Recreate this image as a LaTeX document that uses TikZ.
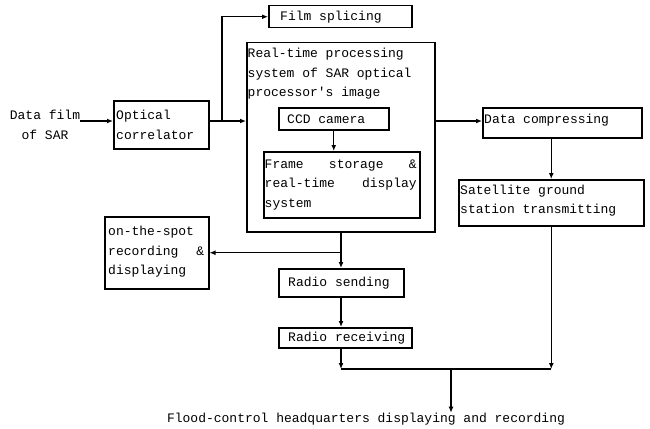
\documentclass[tikz,border=0pt]{standalone}
\usepackage{fontspec}
\newfontfamily\monof{Liberation Mono}
\usetikzlibrary{arrows.meta,calc}
\begin{document}
\begin{tikzpicture}[x=1pt,y=-1pt,
  every node/.style={font=\monof\fontsize{13}{19.5}\selectfont},
  box/.style={draw,line width=1.5pt,anchor=north west,inner sep=0pt},
  txt/.style={anchor=west,align=left,inner sep=0pt},
  arr/.style={line width=1.2pt,-{Latex[length=6pt,width=5pt]}},
  ln/.style={line width=1.2pt}]
\useasboundingbox (0,0) rectangle (650,428);
% boxes
\node[box,minimum width=143pt,minimum height=22pt] (film) at (268,5) {};
\node[txt] at ($(film.west)+(12,0)$) {Film splicing};
\node[box,minimum width=95pt,minimum height=48pt] (opt) at (113,100) {};
\node[txt] at ($(opt.west)+(3,0)$) {Optical\\correlator};
\node[box,minimum width=188pt,minimum height=189pt] (rt) at (246,42) {};
\node[anchor=north west,align=left,inner xsep=1.5pt,inner ysep=6pt] (rtl) at (rt.north west) {Real-time processing\\system of SAR optical\\processor's image};
\node[box,minimum width=110pt,minimum height=22pt] (ccd) at (278,107) {};
\node[txt] at ($(ccd.west)+(9,0)$) {CCD camera};
\node[box,minimum width=156pt,minimum height=66pt] (frame) at (263,151) {};
\node[txt,text width=152pt] at ($(frame.west)+(1.5,0)$) {Frame\hfill storage\hfill \&\\real-time\hfill display\\system};
\node[box,minimum width=159pt,minimum height=30pt] (dc) at (482,107) {};
\node[txt] at ($(dc.west)+(2,-3)$) {Data compressing};
\node[box,minimum width=185pt,minimum height=46pt] (sat) at (458,179) {};
\node[txt] at ($(sat.west)+(2,-2)$) {Satellite ground\\station transmitting};
\node[box,minimum width=104pt,minimum height=72pt] (spot) at (104,216) {};
\node[txt,text width=96pt] at ($(spot.west)+(4,-1)$) {on-the-spot\\recording\hfill\&\\displaying};
\node[box,minimum width=125pt,minimum height=28pt] (rs) at (278,268) {};
\node[txt] at ($(rs.west)+(10,0)$) {Radio sending};
\node[box,minimum width=133pt,minimum height=20pt] (rr) at (278,327) {};
\node[txt] at ($(rr.west)+(10,0)$) {Radio receiving};
% free texts
\node[align=center,inner sep=0pt] (df) at (45,125) {Data film\\of SAR};
\node[inner sep=0pt] (hq) at (366,419) {Flood-control headquarters displaying and recording};
% junctions
\coordinate (j1) at (222,121);
\coordinate (j3) at (341,369);
\coordinate (j4) at (451,369);
% connectors
\draw[arr] (df.east |- j1) -- (opt.west |- j1);
\draw[ln] (opt.east |- j1) -- (j1);
\draw[arr] (j1) -- (rt.west |- j1);
\draw[arr] (j1) |- (film.west);
\draw[arr] (ccd.south) -- (ccd.south |- frame.north);
\draw[arr] (rt.east |- j1) -- (dc.west |- j1);
\draw[arr] (sat.north |- dc.south) -- (sat.north);
\draw[arr] (rt.south -| j3) -- (rs.north -| j3);
\draw[arr] (spot.east -| j3) -- (spot.east);
\draw[arr] (rs.south -| j3) -- (rr.north -| j3);
\draw[arr] (rr.south -| j3) -- (j3);
\draw[arr] (sat.south) -- (sat.south |- j3);
\draw[ln] (j3) -- (sat.south |- j3);
\draw[arr] (j4) -- (hq.north -| j4);
\end{tikzpicture}
\end{document}
